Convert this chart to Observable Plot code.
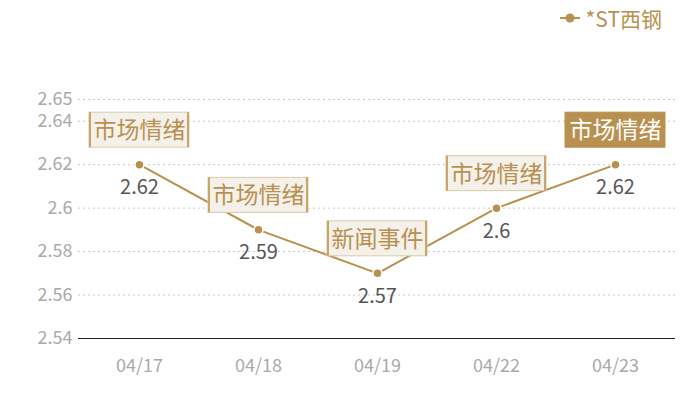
<!DOCTYPE html>
<html><head><meta charset="utf-8">
<script src="https://cdn.jsdelivr.net/npm/d3@7"></script>
<script src="https://cdn.jsdelivr.net/npm/@observablehq/plot@0.6"></script>
<style>
body{margin:0;background:#fff;font-family:"Noto Sans CJK SC","Noto Sans",sans-serif;}
#legend{height:36px;display:flex;justify-content:flex-end;align-items:center;padding-right:38px;box-sizing:border-box;color:#b8904f;font-size:21px;}
#legend svg{margin-right:6px;}
</style></head>
<body>
<div id="legend"><svg width="20" height="12"><line x1="0" y1="6" x2="20" y2="6" stroke="#b8904f" stroke-width="2"/><circle cx="10" cy="6" r="4.5" fill="#b8904f"/></svg><span>*ST西钢</span></div>
<div id="chart"></div>
<script>
const dates = ["04/17","04/18","04/19","04/22","04/23"];
const values = [2.62, 2.59, 2.57, 2.60, 2.62];
const events = ["市场情绪","市场情绪","新闻事件","市场情绪","市场情绪"];
const highlighted = [false, false, false, false, true];
const yTicks = [2.54, 2.56, 2.58, 2.6, 2.62, 2.64, 2.65];
const seriesName = "*ST西钢";

const data = dates.map((d, i) => ({date: d, value: values[i], event: events[i], hi: highlighted[i]}));
const gold = "#b8904f";

const chart = Plot.plot({
  width: 700,
  height: 364,
  marginLeft: 78,
  marginRight: 25,
  marginTop: 63,
  marginBottom: 62,
  style: {fontFamily: '"Noto Sans CJK SC","Noto Sans",sans-serif', background: "#fff"},
  x: {type: "point", domain: dates, padding: 0.5},
  y: {domain: [2.54, 2.65]},
  marks: [
    Plot.gridY(yTicks.filter(t => t !== 2.54), {stroke: "#c8c8c8", strokeOpacity: 1, strokeDasharray: "2,3"}),
    Plot.axisY(yTicks, {tickSize: 0, tickPadding: 6, fontSize: 18, fill: "#aaa", label: null, tickFormat: d => String(d)}),
    Plot.axisX({tickSize: 0, tickPadding: 21, fontSize: 18, fill: "#aaa", label: null}),
    Plot.ruleY([2.54], {stroke: "#222", strokeWidth: 1.2}),
    Plot.line(data, {x: "date", y: "value", stroke: gold, strokeWidth: 2}),
    Plot.dot(data, {x: "date", y: "value", r: 4.5, fill: gold, stroke: "#fff", strokeWidth: 1.5}),
    Plot.text(data, {x: "date", y: "value", text: d => String(d.value), dy: 23, fontSize: 20, fill: "#555"}),
    Plot.rect(data, {x1: "date", x2: "date", y1: "value", y2: "value",
      insetLeft: -50, insetRight: -50, insetTop: -52, insetBottom: 17,
      fill: d => d.hi ? gold : "#f4f0ea", stroke: d => d.hi ? gold : "#dccaa8", strokeWidth: 1}),
    Plot.rect(data, {x1: "date", x2: "date", y1: "value", y2: "value",
      insetLeft: -50, insetRight: 48, insetTop: -52, insetBottom: 17, fill: d => d.hi ? gold : "#c9a56a"}),
    Plot.rect(data, {x1: "date", x2: "date", y1: "value", y2: "value",
      insetLeft: 48, insetRight: -50, insetTop: -52, insetBottom: 17, fill: d => d.hi ? gold : "#c9a56a"}),
    Plot.text(data, {x: "date", y: "value", text: "event", dy: -34, fontSize: 23, fill: d => d.hi ? "#fff" : gold})
  ]
});
document.getElementById("chart").appendChild(chart);
</script>
</body></html>
